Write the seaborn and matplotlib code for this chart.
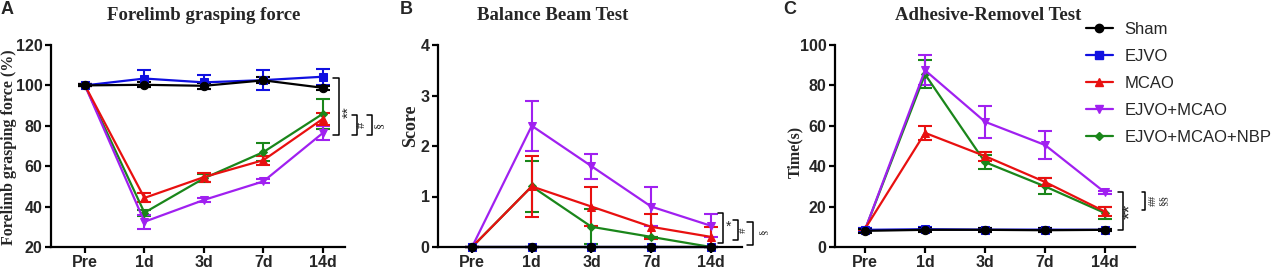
import numpy as np
import pandas as pd
import matplotlib
matplotlib.use('Agg')
import matplotlib.pyplot as plt
from matplotlib.lines import Line2D
import seaborn as sns

sns.set_style('ticks')
plt.rcParams['font.family'] = ['Liberation Sans', 'DejaVu Sans']

# 数据
days = ['Pre', '1d', '3d', '7d', '14d']
groups = ['Sham', 'EJVO', 'MCAO', 'EJVO+MCAO', 'EJVO+MCAO+NBP']
colors = {'Sham': '#000000', 'EJVO': '#1010e0', 'MCAO': '#e81010',
          'EJVO+MCAO': '#a020f0', 'EJVO+MCAO+NBP': '#1a861a'}
marks = {'Sham': 'o', 'EJVO': 's', 'MCAO': '^', 'EJVO+MCAO': 'v', 'EJVO+MCAO+NBP': 'D'}
msize = {'Sham': 6, 'EJVO': 6, 'MCAO': 6, 'EJVO+MCAO': 6, 'EJVO+MCAO+NBP': 4}

# A 前肢抓力
grip_mean = {
    'Sham': [100, 100.3, 99.8, 102.5, 98.8],
    'EJVO': [100, 103.4, 101.5, 102.6, 104.3],
    'MCAO': [100, 44.3, 54.6, 63, 83.5],
    'EJVO+MCAO': [100, 32.5, 43.3, 52.5, 76.5],
    'EJVO+MCAO+NBP': [100, 37, 54, 67, 86],
}
grip_err = {
    'Sham': [0.5, 1.2, 1.5, 1.5, 1],
    'EJVO': [0.5, 4.3, 3.5, 5, 4],
    'MCAO': [0.5, 2.2, 2.2, 2.2, 3],
    'EJVO+MCAO': [0.5, 3.5, 1, 1, 3.5],
    'EJVO+MCAO+NBP': [0.5, 1.5, 2, 4.5, 7.5],
}
# B 平衡木
beam_mean = {
    'Sham': [0, 0, 0, 0, 0],
    'EJVO': [0, 0, 0, 0, 0],
    'MCAO': [0, 1.2, 0.8, 0.4, 0.2],
    'EJVO+MCAO': [0, 2.4, 1.6, 0.8, 0.42],
    'EJVO+MCAO+NBP': [0, 1.2, 0.4, 0.2, 0],
}
beam_err = {
    'Sham': [0, 0, 0, 0, 0],
    'EJVO': [0, 0, 0, 0, 0],
    'MCAO': [0, 0.6, 0.38, 0.25, 0.2],
    'EJVO+MCAO': [0, 0.5, 0.25, 0.38, 0.23],
    'EJVO+MCAO+NBP': [0, 0.5, 0.35, 0, 0],
}
# C 去粘贴
adh_mean = {
    'Sham': [8, 8.5, 8.5, 8.3, 8.5],
    'EJVO': [8.5, 8.8, 8.6, 8.6, 8.5],
    'MCAO': [9, 56.5, 45, 32.2, 17.5],
    'EJVO+MCAO': [8.5, 87.5, 62, 50.5, 27],
    'EJVO+MCAO+NBP': [8.5, 85.5, 42, 30, 16.8],
}
adh_err = {
    'Sham': [1, 1, 1, 1, 0.5],
    'EJVO': [1, 1, 1, 1, 0.5],
    'MCAO': [0.5, 3.5, 2.2, 2.2, 2.2],
    'EJVO+MCAO': [0.5, 7.5, 8, 7, 0.8],
    'EJVO+MCAO+NBP': [0.5, 7, 3.5, 4, 3],
}

W, H = 1280, 273
fig = plt.figure(figsize=(12.8, 2.73), dpi=100)


def px_axes(l, r, t, b):
    return fig.add_axes([l / W, 1 - b / H, (r - l) / W, (b - t) / H])


draw_order = ['EJVO+MCAO+NBP', 'EJVO+MCAO', 'MCAO', 'EJVO', 'Sham']


def panel(ax, mean, err, ylim, yticks, xlim, ylabel, ylsize, lab_xy):
    rows = []
    for g in groups:
        for i, d in enumerate(days):
            rows.append({'pos': i, 'value': mean[g][i], 'group': g})
    df = pd.DataFrame(rows)
    for g in draw_order:
        ax.errorbar(range(len(days)), mean[g], yerr=err[g], fmt='none',
                    ecolor=colors[g], elinewidth=1.5, capsize=5, capthick=1.5,
                    clip_on=False, zorder=2)
    for g in draw_order:
        sns.lineplot(data=df[df.group == g], x='pos', y='value', color=colors[g],
                     marker=marks[g], markersize=msize[g], markeredgecolor=colors[g],
                     linewidth=1.6, ax=ax, legend=False, clip_on=False, zorder=3)
    ax.set_xlim(*xlim)
    ax.set_ylim(*ylim)
    ax.set_yticks(yticks)
    ax.set_xticks(range(len(days)))
    ax.set_xticklabels(days)
    ax.set_xlabel('')
    ax.set_ylabel(ylabel, family='Liberation Serif', fontweight='bold', fontsize=ylsize)
    ax.yaxis.set_label_coords(*lab_xy)
    sns.despine(ax=ax)
    for s in ['left', 'bottom']:
        ax.spines[s].set_linewidth(1.6)
        ax.spines[s].set_color('black')
    ax.tick_params(axis='both', width=1.6, length=4, color='black', labelsize=11.5, pad=2)
    for lab in ax.get_xticklabels() + ax.get_yticklabels():
        lab.set_fontweight('bold')


def bracket(ax, x0, x1, y0, y1):
    ax.plot([x0, x1, x1, x0], [y0, y0, y1, y1], color='black', lw=1.1, clip_on=False)


axA = px_axes(51, 345, 45, 247)
panel(axA, grip_mean, grip_err, (20, 120), [20, 40, 60, 80, 100, 120], (-0.57, 4.37),
      'Forelimb grasping force (%)', 11.5, ((17 - 51) / 294, 0.495))
axB = px_axes(438, 742, 45, 247)
panel(axB, beam_mean, beam_err, (0, 4), [0, 1, 2, 3, 4], (-0.57, 4.52), 'Score', 13,
      ((419 - 438) / 304, 0.6))
axC = px_axes(835, 1135, 45, 247)
panel(axC, adh_mean, adh_err, (0, 100), [0, 20, 40, 60, 80, 100], (-0.5, 4.5), 'Time(s)', 11.5,
      ((803 - 835) / 300, 0.47))

# 显著性标记
bracket(axA, 4.17, 4.27, 103.7, 75.4)
axA.text(4.43, 87, '**', rotation=90, fontsize=11, ha='center', va='center')
bracket(axA, 4.49, 4.57, 85.3, 75.4)
axA.text(4.66, 80.4, '#', rotation=90, fontsize=9, ha='center', va='center', family='Liberation Serif')
bracket(axA, 4.74, 4.82, 85.3, 75.4)
axA.text(4.95, 80.4, '§', rotation=90, fontsize=9, ha='center', va='center', family='Liberation Serif')

bracket(axB, 4.12, 4.2, 0.67, 0.08)
axB.text(4.3, 0.4, '*', fontsize=10, ha='center', va='center')
bracket(axB, 4.37, 4.45, 0.53, 0.14)
axB.text(4.54, 0.34, '#', rotation=90, fontsize=8, ha='center', va='center', family='Liberation Serif')
bracket(axB, 4.6, 4.7, 0.5, 0.04)
axB.text(4.87, 0.3, '§', rotation=90, fontsize=8, ha='center', va='center', family='Liberation Serif')

bracket(axC, 4.22, 4.3, 27.2, 8.4)
axC.text(4.42, 17.5, '**', rotation=90, fontsize=14, ha='center', va='center')
bracket(axC, 4.62, 4.67, 27.2, 18.3)
axC.text(4.8, 23.3, '##', rotation=90, fontsize=8, ha='center', va='center', family='Liberation Serif')
axC.text(4.97, 23.3, '§§', rotation=90, fontsize=8, ha='center', va='center', family='Liberation Serif')

# 标题与面板字母
for txt, cx in [('Forelimb grasping force', 204), ('Balance Beam Test', 553), ('Adhesive-Removel Test', 988)]:
    fig.text(cx / W, 1 - 15 / H, txt, ha='center', va='center', family='Liberation Serif',
             fontweight='bold', fontsize=13.5)
for txt, x in [('A', 1), ('B', 400), ('C', 783)]:
    fig.text(x / W, 1 - 1 / H, txt, ha='left', va='top', fontweight='bold', fontsize=13)

handles = [Line2D([0], [0], color=colors[g], marker=marks[g], markersize=msize[g],
                  markeredgecolor=colors[g], lw=1.6) for g in groups]
fig.legend(handles, groups, loc='upper left', bbox_to_anchor=(1086 / W, 1 - 22 / H),
           frameon=False, fontsize=12, handlelength=1.6, handletextpad=0.7, labelspacing=0.72,
           borderaxespad=0, borderpad=0)

plt.savefig('out.png', dpi=100)
